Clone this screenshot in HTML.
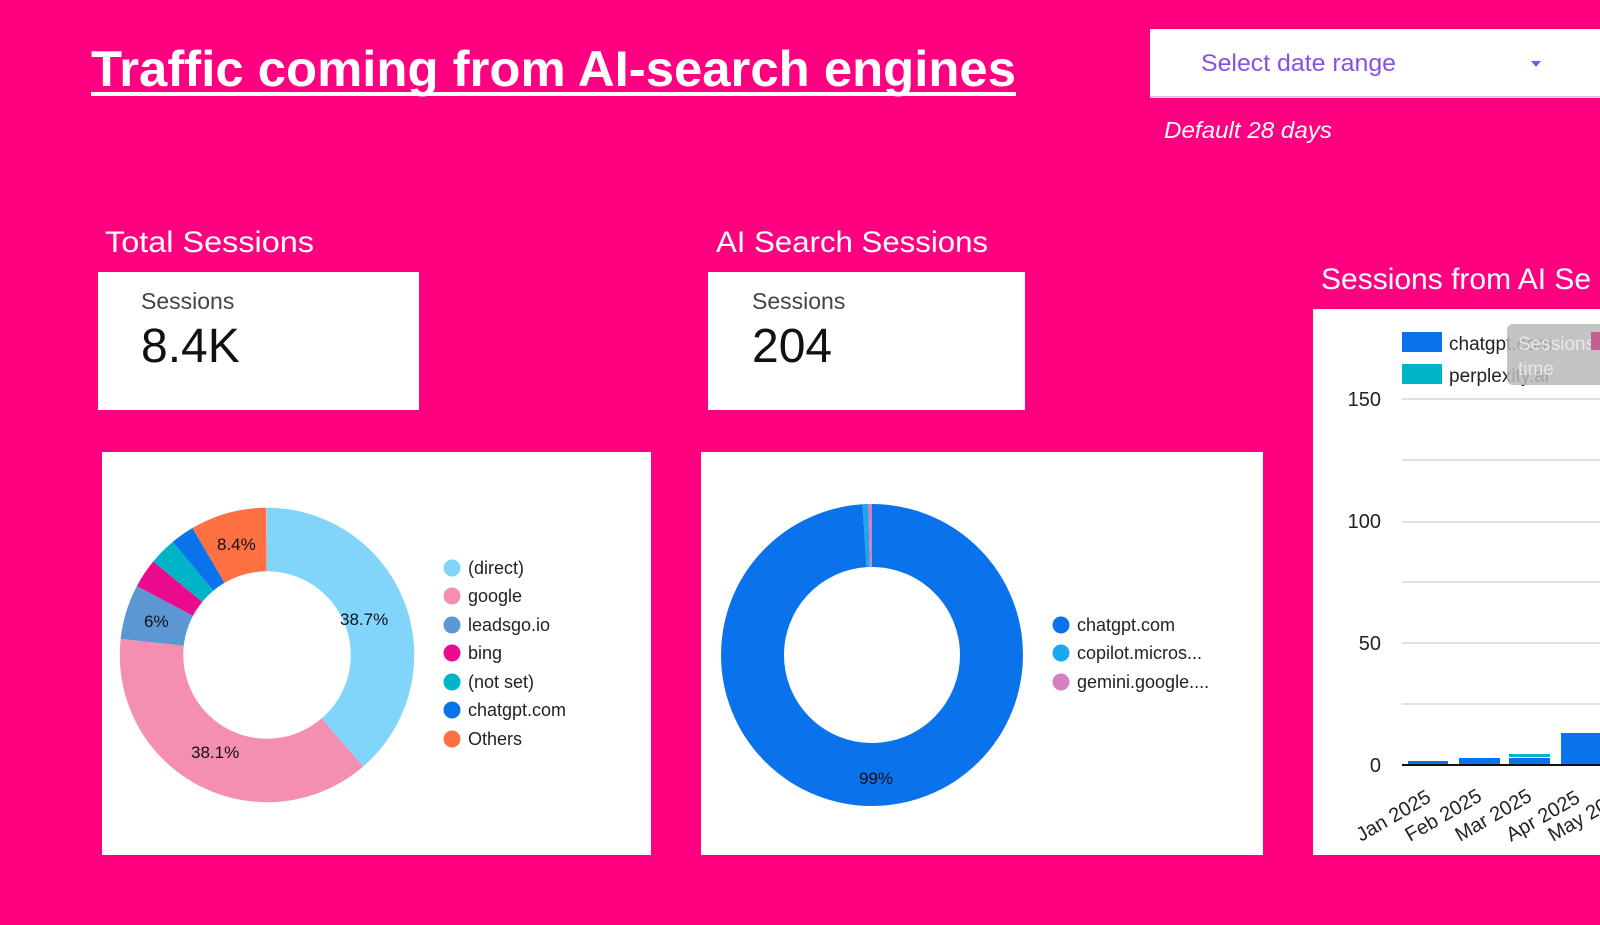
<!DOCTYPE html>
<html><head><meta charset="utf-8"><style>
html,body{margin:0;padding:0;background:#ff0080;width:1600px;height:925px;overflow:hidden}
svg{display:block}
text{font-family:"Liberation Sans",sans-serif}
</style></head><body>
<svg width="1600" height="925" viewBox="0 0 1600 925" xmlns="http://www.w3.org/2000/svg">
<rect width="1600" height="925" fill="#ff0080"/>
<text x="91" y="86" font-size="50" font-weight="bold" fill="#fff" textLength="925" lengthAdjust="spacingAndGlyphs">Traffic coming from AI-search engines</text>
<rect x="91" y="92" width="925" height="4" fill="#fff"/>
<rect x="1150" y="29" width="450" height="68" fill="#fff"/>
<rect x="1150" y="96" width="450" height="2" fill="#e3c3e8"/>
<text x="1201" y="71" font-size="24" fill="#8a4fe8" textLength="195" lengthAdjust="spacingAndGlyphs">Select date range</text>
<polygon points="1531,61 1541,61 1536,67" fill="#8a4fe8"/>
<text x="1164" y="138" font-size="23" font-style="italic" fill="#fff" textLength="168" lengthAdjust="spacingAndGlyphs">Default 28 days</text>
<text x="105" y="252" font-size="30" fill="#fff" textLength="209" lengthAdjust="spacingAndGlyphs">Total Sessions</text>
<text x="716" y="252" font-size="30" fill="#fff" textLength="272" lengthAdjust="spacingAndGlyphs">AI Search Sessions</text>
<text x="1321" y="289" font-size="30" fill="#fff">Sessions from AI Se</text>
<rect x="98" y="272" width="321" height="138" fill="#fff"/>
<text x="141" y="309" font-size="23" fill="#444">Sessions</text>
<text x="141" y="362" font-size="48" fill="#111">8.4K</text>
<rect x="708" y="272" width="317" height="138" fill="#fff"/>
<text x="752" y="309" font-size="23" fill="#444">Sessions</text>
<text x="752" y="362" font-size="48" fill="#111">204</text>
<rect x="102" y="452" width="549" height="403" fill="#fff"/>
<g transform="rotate(-90 267 655)" fill="none" stroke-width="63.5">
<circle cx="267" cy="655" r="115.5" pathLength="100" stroke="#81d4fa" stroke-dasharray="38.7 100" stroke-dashoffset="0"/>
<circle cx="267" cy="655" r="115.5" pathLength="100" stroke="#f48fb1" stroke-dasharray="38.1 100" stroke-dashoffset="-38.7"/>
<circle cx="267" cy="655" r="115.5" pathLength="100" stroke="#5b97d2" stroke-dasharray="6 100" stroke-dashoffset="-76.8"/>
<circle cx="267" cy="655" r="115.5" pathLength="100" stroke="#ea0a8e" stroke-dasharray="3.2 100" stroke-dashoffset="-82.8"/>
<circle cx="267" cy="655" r="115.5" pathLength="100" stroke="#00b4c8" stroke-dasharray="3 100" stroke-dashoffset="-86"/>
<circle cx="267" cy="655" r="115.5" pathLength="100" stroke="#0a73eb" stroke-dasharray="2.6 100" stroke-dashoffset="-89"/>
<circle cx="267" cy="655" r="115.5" pathLength="100" stroke="#ff7043" stroke-dasharray="8.4 100" stroke-dashoffset="-91.6"/>
</g>
<g font-size="17" fill="#111">
<text x="340" y="625">38.7%</text>
<text x="191" y="758">38.1%</text>
<text x="144" y="627">6%</text>
<text x="217" y="550">8.4%</text>
</g>
<g font-size="18" fill="#222">
<circle cx="452" cy="568" r="8.5" fill="#81d4fa"/><text x="468" y="574">(direct)</text>
<circle cx="452" cy="596" r="8.5" fill="#f48fb1"/><text x="468" y="602">google</text>
<circle cx="452" cy="625" r="8.5" fill="#5b97d2"/><text x="468" y="631">leadsgo.io</text>
<circle cx="452" cy="653" r="8.5" fill="#ea0a8e"/><text x="468" y="659">bing</text>
<circle cx="452" cy="682" r="8.5" fill="#00b4c8"/><text x="468" y="688">(not set)</text>
<circle cx="452" cy="710" r="8.5" fill="#0a73eb"/><text x="468" y="716">chatgpt.com</text>
<circle cx="452" cy="739" r="8.5" fill="#ff7043"/><text x="468" y="745">Others</text>
</g>
<rect x="701" y="452" width="562" height="403" fill="#fff"/>
<g transform="rotate(-90 872 655)" fill="none" stroke-width="63">
<circle cx="872" cy="655" r="119.5" pathLength="100" stroke="#0a73eb" stroke-dasharray="99 100" stroke-dashoffset="0"/>
<circle cx="872" cy="655" r="119.5" pathLength="100" stroke="#1aa7f0" stroke-dasharray="0.6 100" stroke-dashoffset="-99"/>
<circle cx="872" cy="655" r="119.5" pathLength="100" stroke="#d77fbf" stroke-dasharray="0.4 100" stroke-dashoffset="-99.6"/>
</g>
<text x="859" y="784" font-size="17" fill="#111">99%</text>
<g font-size="18" fill="#222">
<circle cx="1061" cy="625" r="8.5" fill="#0a73eb"/><text x="1077" y="631">chatgpt.com</text>
<circle cx="1061" cy="653" r="8.5" fill="#1aa7f0"/><text x="1077" y="659">copilot.micros...</text>
<circle cx="1061" cy="682" r="8.5" fill="#d77fbf"/><text x="1077" y="688">gemini.google....</text>
</g>
<rect x="1313" y="309" width="287" height="546" fill="#fff"/>
<g stroke="#d6d6d6" stroke-width="1.5">
<line x1="1402" y1="399" x2="1600" y2="399"/>
<line x1="1402" y1="460" x2="1600" y2="460"/>
<line x1="1402" y1="522" x2="1600" y2="522"/>
<line x1="1402" y1="582" x2="1600" y2="582"/>
<line x1="1402" y1="643" x2="1600" y2="643"/>
<line x1="1402" y1="704" x2="1600" y2="704"/>
</g>
<g font-size="20" fill="#222" text-anchor="end">
<text x="1381" y="406">150</text>
<text x="1381" y="528">100</text>
<text x="1381" y="650">50</text>
<text x="1381" y="772">0</text>
</g>
<rect x="1408" y="761" width="40" height="4" fill="#0a73eb"/>
<rect x="1459" y="758" width="41" height="7" fill="#0a73eb"/>
<rect x="1509" y="758" width="41" height="7" fill="#0a73eb"/>
<rect x="1509" y="754" width="41" height="3" fill="#00b4c8"/>
<rect x="1561" y="733" width="39" height="32" fill="#0a73eb"/>
<line x1="1402" y1="765" x2="1600" y2="765" stroke="#111" stroke-width="2"/>
<g font-size="20" fill="#222">
<text transform="translate(1361 842) rotate(-30)">Jan 2025</text>
<text transform="translate(1410 842) rotate(-30)">Feb 2025</text>
<text transform="translate(1460 842) rotate(-30)">Mar 2025</text>
<text transform="translate(1511 842) rotate(-30)">Apr 2025</text>
<text transform="translate(1553 842) rotate(-30)">May 2025</text>
</g>
<rect x="1402" y="332" width="40" height="20" fill="#0a73eb"/>
<rect x="1402" y="364" width="40" height="20" fill="#00b4c8"/>
<text x="1449" y="350" font-size="19" fill="#222">chatgpt.com</text>
<text x="1449" y="382" font-size="19" fill="#222">perplexity.ai</text>
<rect x="1507" y="324" width="100" height="61" rx="6" fill="#b8b8b8" opacity="0.85"/>
<text x="1518" y="350" font-size="19" fill="#e8e8e8">Sessions</text>
<text x="1518" y="375" font-size="19" fill="#e8e8e8">time</text>
<rect x="1591" y="332" width="9" height="18" fill="#c06090"/>
</svg>
</body></html>
